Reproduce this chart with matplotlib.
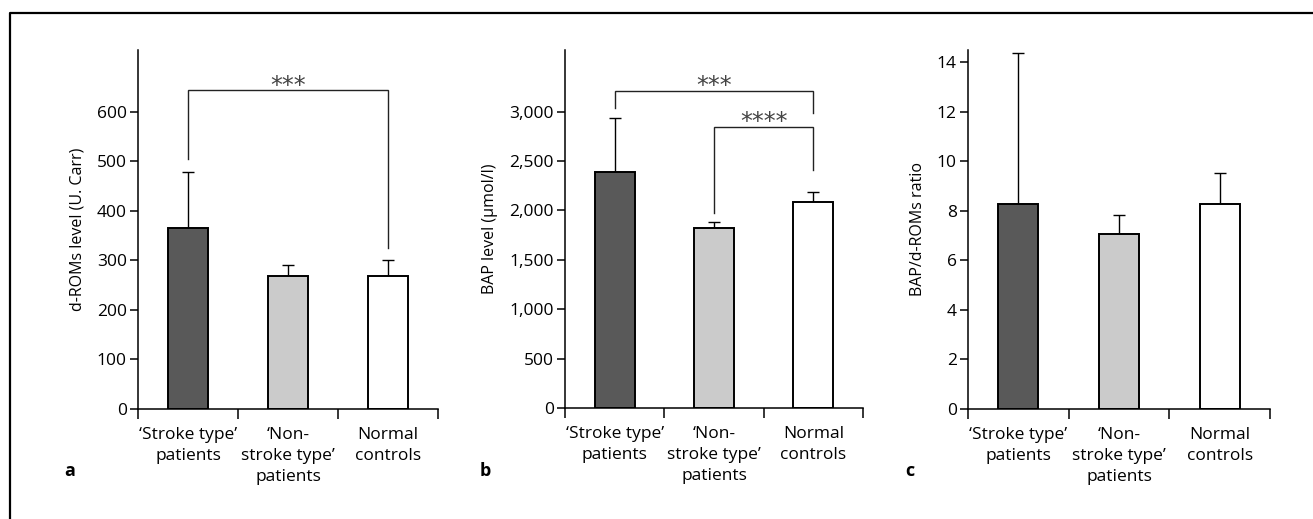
import matplotlib
matplotlib.use("Agg")
import matplotlib.pyplot as plt
from matplotlib.lines import Line2D

plt.rcParams['font.family'] = ['Open Sans', 'DejaVu Sans']

# ---------------- data ----------------
categories = ["\u2018Stroke type\u2019\npatients", "\u2018Non-\nstroke type\u2019\npatients", "Normal\ncontrols"]

droms_mean = [366, 268, 268]
droms_err = [112, 23, 33]

bap_mean = [2390, 1820, 2080]
bap_err = [548, 67, 104]

ratio_mean = [8.3, 7.05, 8.3]
ratio_err = [6.08, 0.78, 1.24]

droms_ticks = [0, 100, 200, 300, 400, 500, 600]
bap_ticks = [0, 500, 1000, 1500, 2000, 2500, 3000]
bap_ticklabels = ["0", "500", "1,000", "1,500", "2,000", "2,500", "3,000"]
ratio_ticks = [0, 2, 4, 6, 8, 10, 12, 14]

# significance: (left index, right index, label)
droms_sig = [(0, 2, "***")]
bap_sig = [(0, 2, "***"), (1, 2, "****")]

# ---------------- style ----------------
bar_colors = ["#595959", "#cbcbcb", "#ffffff"]
W, H = 1313, 519
fig = plt.figure(figsize=(W / 100, H / 100), dpi=100)

def px_axes(l, r, t, b):
    return fig.add_axes([l / W, 1 - b / H, (r - l) / W, (b - t) / H])

def draw_panel(ax, means, errs, ymax, ticks, ticklabels, ylabel):
    x = list(range(len(means)))
    ax.bar(x, means, width=0.4, color=bar_colors, edgecolor="black",
           linewidth=1.4, zorder=2)
    ax.errorbar(x, means, yerr=[[0] * len(errs), errs], fmt="none",
                ecolor="black", elinewidth=1.0, capsize=4, capthick=1.0,
                zorder=1)
    ax.set_xlim(-0.5, 2.5)
    ax.set_ylim(0, ymax)
    for s in ["top", "right"]:
        ax.spines[s].set_visible(False)
    for s in ["left", "bottom"]:
        ax.spines[s].set_linewidth(1.1)
    ax.set_xticks(x)
    ax.set_xticklabels(categories, fontsize=12.5, linespacing=1.42)
    ax.tick_params(axis="x", which="major", length=0, pad=13)
    ax.set_xticks([-0.5, 0.5, 1.5, 2.5], minor=True)
    ax.tick_params(axis="x", which="minor", length=7, width=1.1, direction="out")
    ax.set_yticks(ticks)
    ax.set_yticklabels(ticklabels, fontsize=12.5)
    ax.tick_params(axis="y", length=6, width=1.1, pad=2)
    ax.set_ylabel(ylabel, fontsize=11.5, labelpad=8)

def bracket(ax, i, j, y, left_drop, right_drop, label, star_off):
    ax.plot([i, i, j, j], [left_drop, y, y, right_drop], color="#222222",
            linewidth=1.0, zorder=3, solid_joinstyle="miter")
    ax.text((i + j) / 2, y + star_off, label, ha="center", va="center",
            fontsize=17, color="#444444", family="DejaVu Sans")

# panel a
axa = px_axes(138, 438, 50, 409)
draw_panel(axa, droms_mean, droms_err, 725, droms_ticks,
           [str(t) for t in droms_ticks], "d-ROMs level (U. Carr)")
for (i, j, lab) in droms_sig:
    top_i = droms_mean[i] + droms_err[i]
    top_j = droms_mean[j] + droms_err[j]
    bracket(axa, i, j, 644, top_i + 26, top_j + 25, lab, 8)

# panel b
axb = px_axes(565, 863, 50, 408)
draw_panel(axb, bap_mean, bap_err, 3623, bap_ticks, bap_ticklabels,
           "BAP level (\u00b5mol/l)")
b_heights = [3212, 2848]
b_left = [3033, 1972]
b_right = [2983, 2410]
for k, (i, j, lab) in enumerate(bap_sig):
    bracket(axb, i, j, b_heights[k], b_left[k], b_right[k], lab, 50)

# panel c
axc = px_axes(968, 1270, 50, 409)
draw_panel(axc, ratio_mean, ratio_err, 14.5, ratio_ticks,
           [str(t) for t in ratio_ticks], "BAP/d-ROMs ratio")

# panel letters
for xl, lab in [(70, "a"), (485, "b"), (910, "c")]:
    fig.text(xl / W, 1 - 471 / H, lab, fontsize=13, fontweight="bold",
             ha="center", va="center")

# frame (top and left border)
fig.add_artist(Line2D([10 / W, 10 / W, 1.0], [0.0, 1 - 13 / H, 1 - 13 / H],
                      transform=fig.transFigure, color="black", linewidth=1.6))

fig.savefig("out.png", dpi=100, facecolor="white")
